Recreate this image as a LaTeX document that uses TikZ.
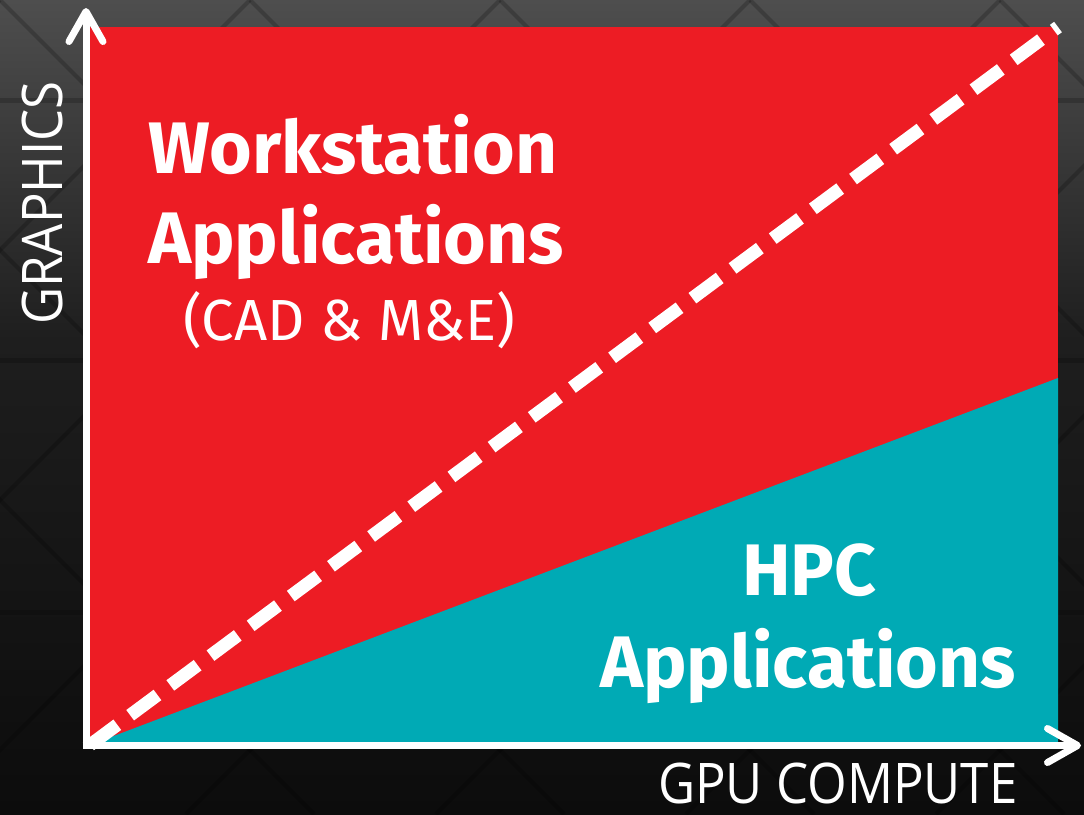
\documentclass[tikz,border=0pt]{standalone}
\usepackage{fontspec}
\usetikzlibrary{arrows.meta, positioning}
\newfontfamily\boldface{Fira Sans}
\newfontfamily\thinface{Open Sans}[FakeStretch=0.91]
\definecolor{amdred}{RGB}{237,28,36}
\definecolor{amdteal}{RGB}{0,170,181}
\definecolor{bgtop}{RGB}{78,78,78}
\definecolor{bgmid}{RGB}{30,30,30}
\definecolor{bgbot}{RGB}{12,12,12}

\begin{document}
\begin{tikzpicture}[x=1pt, y=-1pt, axis/.style={draw=white, line width=7pt, -{Straight Barb[length=30pt, width=34pt, line cap=round, line join=round]}}, headtxt/.style={text=white, inner sep=0pt, anchor=base west, font=\boldface\bfseries\fontsize{73}{80}\selectfont}, subtxt/.style={text=white, inner sep=0pt, anchor=base west, font=\boldface\fontsize{58}{64}\selectfont}, axlabel/.style={text=white, inner sep=0pt, text depth=0pt, anchor=base west, font=\thinface\fontsize{56}{62}\selectfont}]
\useasboundingbox (0,0) rectangle (1084,814);
% background
\shade[top color=bgtop, bottom color=bgmid] (0,0) rectangle (1084,340);
\shade[top color=bgmid, bottom color=bgbot] (0,340) rectangle (1084,814);
\begin{scope}
\clip (0,0) rectangle (1084,814);
\foreach \yy in {100,360,612} \draw[black, opacity=.2, line width=5pt] (0,\yy) -- (1084,\yy);
\foreach \xx in {-500,-250,...,1250} {
  \draw[black, opacity=.2, line width=4pt] (\xx,0) -- ++(814,814);
  \draw[black, opacity=.2, line width=4pt] (\xx+500,0) -- ++(-814,814);
}
\end{scope}
% regions
\coordinate (O) at (90,745);
\coordinate (TR) at (1058,27);
\coordinate (MR) at (1058,378);
\fill[amdred] (O) rectangle (TR);
\fill[amdteal] (O) -- (MR) -- (1058,745) -- cycle;
\draw[white, line width=13pt, dash pattern=on 34pt off 16pt] (O) -- (TR);
% axes
\coordinate (origin) at (86,745.5);
\coordinate (ytip) at (86,8);
\coordinate (xtip) at (1081,745.5);
\draw[axis] (origin) -- (ytip);
\draw[axis] ([xshift=-3.5pt]origin) -- (xtip);
% labels
\node[headtxt] (work) at (148,173) {Workstation};
\node[headtxt] (wapps) at (148,263) {Applications};
\node[subtxt] (cad) at (183,340) {(CAD \& M\&E)};
\node[headtxt] (hpc) at (742,595) {HPC};
\node[headtxt] (happs) at (600,687) {Applications};
\node[axlabel] (xlab) at (658,803) {GPU COMPUTE};
\node[axlabel, rotate=90] (ylab) at (62,325) {GRAPHICS};
\end{tikzpicture}
\end{document}
